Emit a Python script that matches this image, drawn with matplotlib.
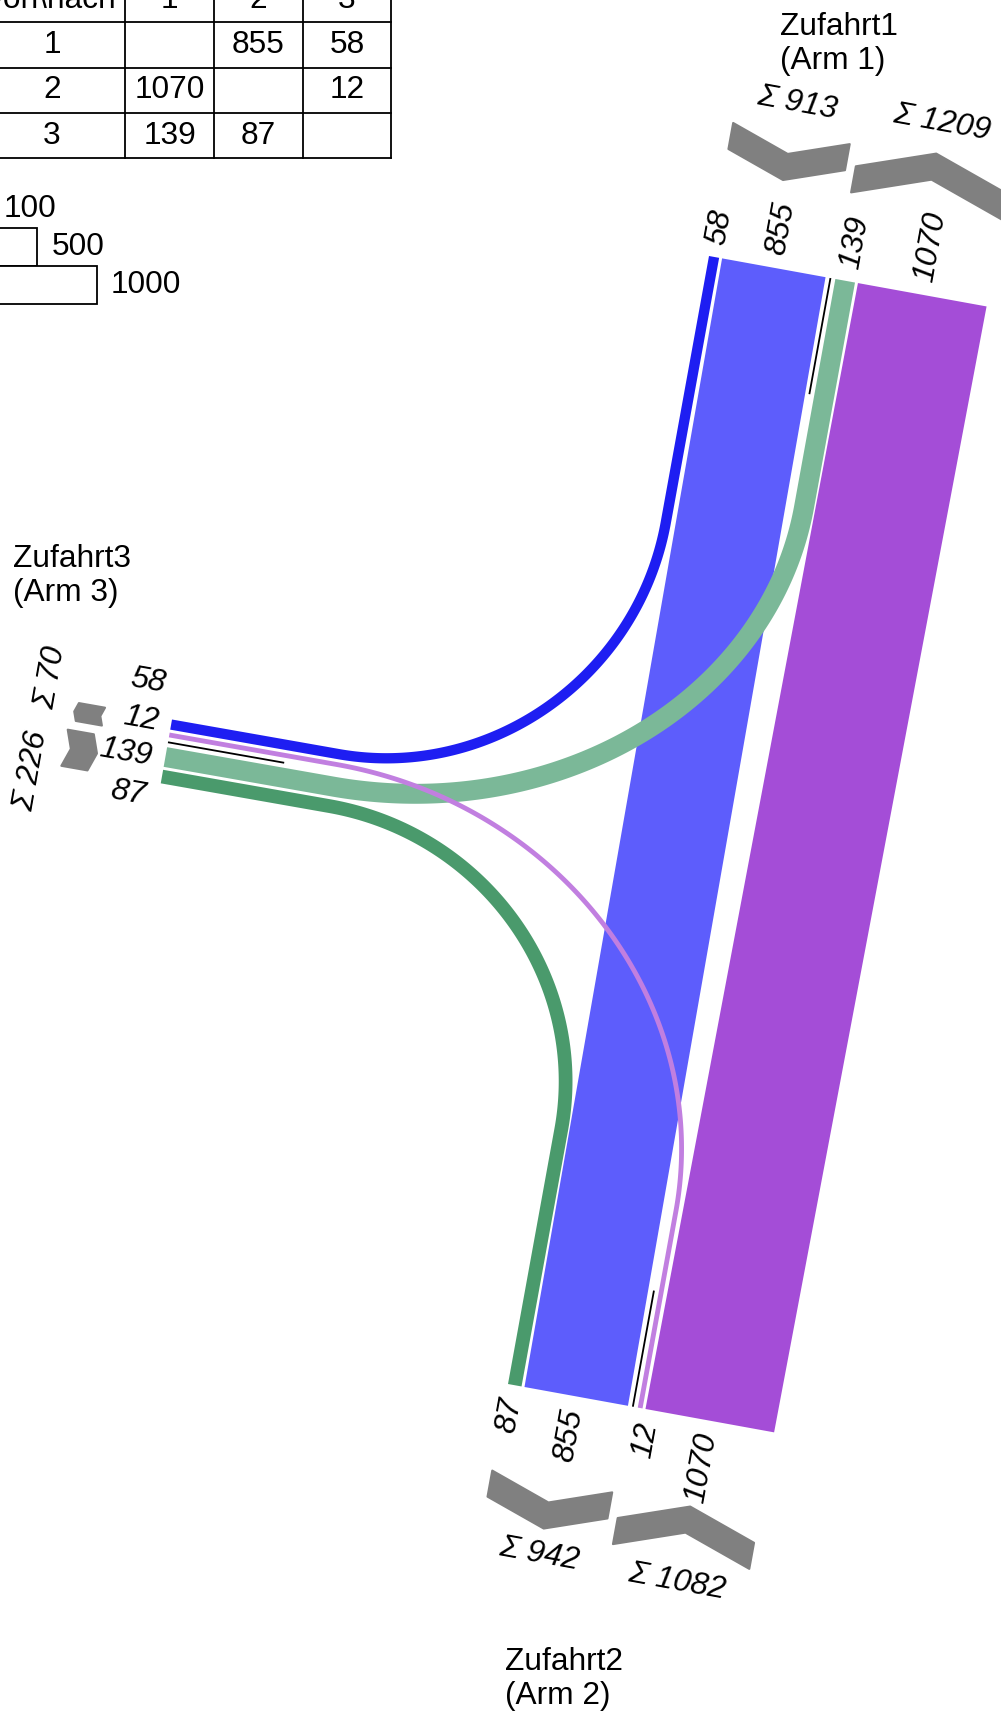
import numpy as np
import matplotlib
matplotlib.use("Agg")
import matplotlib.pyplot as plt
from matplotlib.patches import Polygon, Rectangle

plt.rcParams['font.family'] = ['Liberation Sans', 'DejaVu Sans']

# ---------------- data ----------------
flow_from = [1, 1, 2, 2, 3, 3]
flow_to = [2, 3, 1, 3, 1, 2]
flow_val = [855, 58, 1070, 12, 139, 87]
arm_ids = [1, 2, 3]
arm_titles = ['Zufahrt1\n(Arm 1)', 'Zufahrt2\n(Arm 2)', 'Zufahrt3\n(Arm 3)']
table_corner = 'von\\nach'
legend_vals = [100, 500, 1000]

# ---------------- styles / layout ----------------
flow_colors = {(1, 2): '#5d5dfc', (1, 3): '#1e1ef2', (2, 1): '#a44dd7',
               (2, 3): '#c17fe0', (3, 1): '#7bb898', (3, 2): '#4a9a6c'}
W0, WS = 3.4, 0.119          # band width = W0 + WS * value (pixels)
GAP, DIV_GAP = 3.0, 10.0
FS = 22.8
GRAY = '#808080'

th = np.radians(10.3)
th3 = np.radians(10.0)
c, s = np.cos(th), np.sin(th)
c3, s3 = np.cos(th3), np.sin(th3)
geo = {
    1: dict(O=np.array([709.0, 256.0]), e=np.array([c, s]), o=np.array([s, -c]), vb=88, sig_gap=31),
    2: dict(O=np.array([508.0, 1384.0]), e=np.array([c, s]), o=np.array([-s, c]), vb=88, sig_gap=26),
    3: dict(O=np.array([172.0, 719.5]), e=np.array([-s3, c3]), o=np.array([-c3, -s3]), vb=68, sig_gap=29),
}
# band order across each arm: (group before divider, group after divider)
order = {
    1: ([(1, 3), (1, 2)], [(3, 1), (2, 1)]),
    2: ([(3, 2), (1, 2)], [(2, 3), (2, 1)]),
    3: ([(1, 3), (2, 3)], [(3, 1), (3, 2)]),
}
# straight run-out lengths of turning bands at each arm
straight_len = {((1, 3), 1): 270, ((1, 3), 3): 170,
                ((3, 1), 3): 170, ((3, 1), 1): 230,
                ((3, 2), 3): 170, ((3, 2), 2): 260,
                ((2, 3), 2): 200, ((2, 3), 3): 170}
title_pos = {1: (780, 12), 2: (505, 1647), 3: (13, 544)}

vals = {(a, b): v for a, b, v in zip(flow_from, flow_to, flow_val)}


def width(v):
    return W0 + WS * v


# compute segments across arms
seg, div_u, groups = {}, {}, {}
for arm in arm_ids:
    u = 0.0
    g1, g2 = order[arm]
    spans = []
    for grp_i, grp in enumerate((g1, g2)):
        start = u
        for i, f in enumerate(grp):
            w = width(vals[f])
            seg[(arm, f)] = (u, u + w)
            u += w
            if i < len(grp) - 1:
                u += GAP
        spans.append((start, u))
        if grp_i == 0:
            div_u[arm] = u + DIV_GAP / 2
            u += DIV_GAP
    groups[arm] = spans


def P(arm, u, v):
    g = geo[arm]
    return g['O'] + u * g['e'] + v * g['o']


fig = plt.figure(figsize=(10.01, 17.13), dpi=100)
ax = fig.add_axes([0, 0, 1, 1])
ax.set_xlim(0, 1001)
ax.set_ylim(1713, 0)
ax.axis('off')


def disp_angle(d):
    a = np.degrees(np.arctan2(-d[1], d[0]))
    flip = False
    if a > 90:
        a -= 180; flip = True
    elif a < -90:
        a += 180; flip = True
    return a, flip


# ---- straight-through bands ----
for f in [(2, 1), (1, 2)]:
    u0, u1 = seg[(1, f)]
    w0, w1 = seg[(2, f)]
    poly = [P(1, u0, 0), P(1, u1, 0), P(2, w1, 0), P(2, w0, 0)]
    ax.add_patch(Polygon(poly, closed=True, facecolor=flow_colors[f], edgecolor='none', zorder=2))


# ---- turning bands ----
def bezier(p0, p1, p2, p3, n=300):
    t = np.linspace(0, 1, n)[:, None]
    return ((1 - t) ** 3) * p0 + 3 * ((1 - t) ** 2) * t * p1 + 3 * (1 - t) * t * t * p2 + t ** 3 * p3


def turn_band(f, k=0.55):
    a, b = f
    w = width(vals[f])
    ua = np.mean(seg[(a, f)]); ub = np.mean(seg[(b, f)])
    La = straight_len[(f, a)]; Lb = straight_len[(f, b)]
    A0 = P(a, ua, 0); A1 = P(a, ua, -La)
    B0 = P(b, ub, 0); B1 = P(b, ub, -Lb)
    t0 = -geo[a]['o']; t3 = geo[b]['o']
    sa, sb = np.linalg.solve(np.column_stack([t0, t3]), B1 - A1)
    P1 = A1 + k * sa * t0
    P2 = B1 - k * sb * t3
    pts = np.vstack([np.linspace(A0, A1, 40), bezier(A1, P1, P2, B1)[1:], np.linspace(B1, B0, 40)[1:]])
    tan = np.gradient(pts, axis=0)
    tan /= np.linalg.norm(tan, axis=1)[:, None]
    nrm = np.column_stack([-tan[:, 1], tan[:, 0]])
    left = pts + nrm * w / 2
    right = pts - nrm * w / 2
    return np.vstack([left, right[::-1]])


for z, f in enumerate([(3, 2), (1, 3), (3, 1), (2, 3)]):
    ax.add_patch(Polygon(turn_band(f), closed=True, facecolor=flow_colors[f], edgecolor='none', zorder=3 + z))

# ---- dividers ----
for arm in arm_ids:
    p0 = P(arm, div_u[arm], 0); p1 = P(arm, div_u[arm], -118)
    ax.plot([p0[0], p1[0]], [p0[1], p1[1]], color='black', lw=1.3, zorder=10, solid_capstyle='butt')

# ---- band labels ----
LBL_V = 13
for arm in arm_ids:
    g1, g2 = order[arm]
    d = div_u[arm]
    pos = {}
    prev = d - 18; first = True
    for f in reversed(g1):
        cu = np.mean(seg[(arm, f)])
        p = min(cu, prev if first else prev - 39)
        pos[f] = p; prev = p; first = False
    prev = d + 18; first = True
    for f in g2:
        cu = np.mean(seg[(arm, f)])
        p = max(cu, prev if first else prev + 39)
        pos[f] = p; prev = p; first = False
    ang, flip = disp_angle(geo[arm]['o'])
    for f, p in pos.items():
        xy = P(arm, p, LBL_V)
        ax.text(xy[0], xy[1], str(vals[f]), fontsize=FS, style='italic', rotation=ang,
                rotation_mode='anchor', ha='right' if flip else 'left', va='center', zorder=12)

# ---- chevrons and sums ----
T = 26.5
for arm in arm_ids:
    g = geo[arm]
    vb = g['vb']
    sig_pos = []
    for gi, grp in enumerate(order[arm]):
        u0, u1 = groups[arm][gi]
        um = (u0 + u1) / 2
        D = 0.35 * (u1 - u0) / 2
        inward = grp[0][0] == arm
        if inward:
            bot = [(u0, vb + D), (um, vb), (u1, vb + D)]
        else:
            bot = [(u0, vb), (um, vb + D), (u1, vb)]
        top = [(uu, vv + T) for uu, vv in bot[::-1]]
        poly = [P(arm, uu, vv) for uu, vv in bot + top]
        ax.add_patch(Polygon(poly, closed=True, facecolor=GRAY, edgecolor=GRAY, lw=1.5,
                             joinstyle='round', zorder=4))
        total = sum(vals[f] for f in grp)
        sig_pos.append([um, vb + T + D + g['sig_gap'], total])
    sep = sig_pos[1][0] - sig_pos[0][0]
    if sep < 95:
        mid = (sig_pos[1][0] + sig_pos[0][0]) / 2
        sig_pos[0][0] = mid - 47.5; sig_pos[1][0] = mid + 47.5
    ang, flip = disp_angle(g['e'])
    for um, vv, total in sig_pos:
        xy = P(arm, um, vv)
        ax.text(xy[0], xy[1], '\u03a3 %d' % total, fontsize=FS, style='italic', rotation=ang,
                rotation_mode='anchor', ha='center', va='center', zorder=12)

# ---- arm titles ----
for arm, title in zip(arm_ids, arm_titles):
    x, y = title_pos[arm]
    ax.text(x, y, title, fontsize=FS, ha='left', va='top', linespacing=1.19, zorder=12)

# ---- OD table ----
col_x = [-22, 125, 214, 303, 391]
row_y = [-23, 22.3, 67.6, 112.9, 158.2]
for x in col_x:
    ax.plot([x, x], [row_y[0], row_y[-1]], color='black', lw=1.3, zorder=12)
for y in row_y:
    ax.plot([col_x[0], col_x[-1]], [y, y], color='black', lw=1.3, zorder=12)
header = [table_corner] + [str(a) for a in arm_ids]
cells = [header]
for a in arm_ids:
    row = [str(a)]
    for b in arm_ids:
        row.append(str(vals[(a, b)]) if (a, b) in vals else '')
    cells.append(row)
for r, row in enumerate(cells):
    yc = (row_y[r] + row_y[r + 1]) / 2
    for ci, txt in enumerate(row):
        xc = (col_x[ci] + col_x[ci + 1]) / 2
        if ci == 0:
            xc = 52
        ax.text(xc, yc, txt, fontsize=FS, ha='center', va='center', zorder=12)

# ---- width legend ----
LX = -25.5
for i, v in enumerate(legend_vals):
    y0 = 190 + i * 38
    w = width(v)
    ax.add_patch(Rectangle((LX, y0), w, 38, facecolor='white', edgecolor='black', lw=1.3, zorder=12))
    ax.text(LX + w + 14, y0 + 19, str(v), fontsize=FS, ha='left', va='center', zorder=12)

fig.savefig('out.png', dpi=100)
